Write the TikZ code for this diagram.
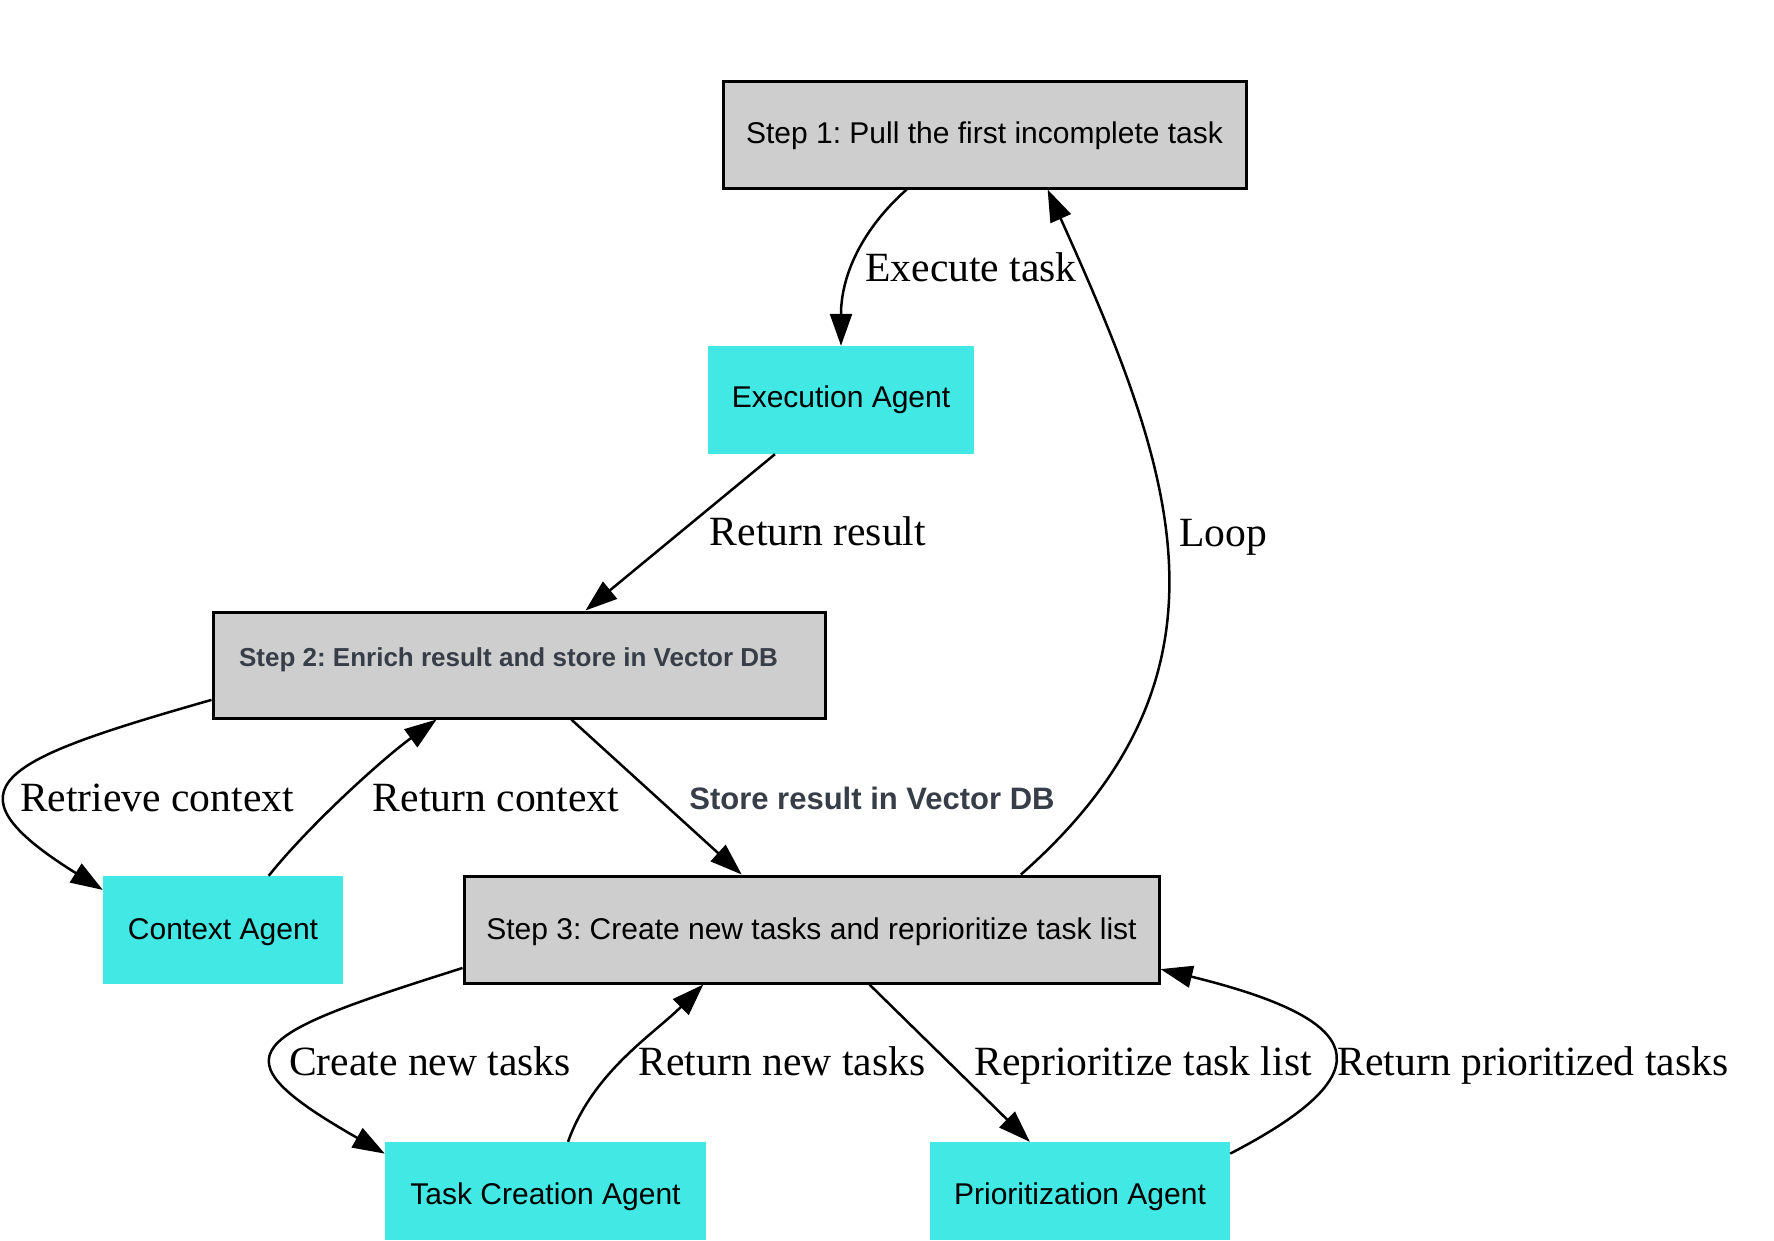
\documentclass[tikz,border=0pt]{standalone}
\usepackage{fontspec}
\setmainfont{Liberation Serif}
\newfontfamily\boxfont{Liberation Sans}
\usetikzlibrary{arrows.meta,calc}
\definecolor{boxgray}{RGB}{206,206,206}
\definecolor{agentcyan}{RGB}{66,232,228}
\definecolor{slate}{RGB}{55,62,72}
\frenchspacing
\begin{document}
\begin{tikzpicture}[x=1pt,y=-1pt,
  stepbox/.style={draw=black, line width=3pt, fill=boxgray, inner sep=0pt,
    text height=23.5pt, text depth=6.3pt,
    font=\boxfont\frenchspacing\fontsize{30}{36}\selectfont},
  agentbox/.style={fill=agentcyan, inner sep=0pt,
    text height=21.5pt, text depth=6.3pt,
    font=\boxfont\fontsize{30}{36}\selectfont},
  lbl/.style={anchor=base, inner sep=0pt, font=\fontsize{41.6}{48}\selectfont},
  storelbl/.style={anchor=base, inner sep=0pt, text=slate,
    font=\boxfont\bfseries\fontsize{31}{36}\selectfont},
  conn/.style={line width=2.5pt, -{Triangle[length=32pt,width=22pt]}}
]
\fill[white] (0,0) rectangle (1774,1240);
\useasboundingbox (0,0) rectangle (1774,1240);

% nodes
\node[stepbox, minimum width=523, minimum height=107] (s1) at (984.5,134.5) {Step 1: Pull the first incomplete task};
\node[agentbox, minimum width=266, minimum height=108] (exec) at (841,400) {Execution Agent};
\node[stepbox, minimum width=612, minimum height=106, text=slate,
  text height=18.8pt, text depth=15.5pt,
  font=\boxfont\frenchspacing\bfseries\fontsize{26}{32}\selectfont] (s2) at (519,665) {\kern-21pt Step 2: Enrich result and store in Vector DB};
\node[agentbox, minimum width=240, minimum height=108, text height=25.5pt] (ctx) at (223,930) {Context Agent};
\node[stepbox, minimum width=695, minimum height=107, text height=25.5pt] (s3) at (811.5,929.5) {Step 3: Create new tasks and reprioritize task list};
\node[agentbox, minimum width=321, minimum height=98, text height=33.5pt] (tca) at (545.5,1191) {Task Creation Agent};
\node[agentbox, minimum width=300, minimum height=98, text height=33.5pt] (prio) at (1080,1191) {Prioritization Agent};

% connectors
\draw[conn] ($(s1.south west)!0.352!(s1.south east)$) .. controls +(-45,40) and +(0,-70) .. (exec.north);
\draw[conn] ($(exec.south west)!0.252!(exec.south east)$) -- ($(s2.north west)!0.608!(s2.north east)$);
\draw[conn] ($(s2.north west)!0.82!(s2.south west)$) .. controls +(-210,60) and +(-165,-103) .. ($(ctx.north west)!0.13!(ctx.south west)$);
\draw[conn] ($(ctx.north west)!0.69!(ctx.north east)$) .. controls +(40,-50) and +(-55,40) .. ($(s2.south west)!0.366!(s2.south east)$);
\draw[conn] ($(s2.south west)!0.585!(s2.south east)$) -- ($(s3.north west)!0.40!(s3.north east)$);
\draw[conn] ($(s3.north west)!0.80!(s3.north east)$) .. controls +(230,-202) and +(125,278) .. ($(s1.south west)!0.62!(s1.south east)$);
\draw[conn] ($(s3.north west)!0.85!(s3.south west)$) .. controls +(-215,68) and +(-175,-100) .. ($(tca.north west)!0.12!(tca.south west)$);
\draw[conn] ($(tca.north west)!0.57!(tca.north east)$) .. controls +(25,-70) and +(-50,50) .. ($(s3.south west)!0.345!(s3.south east)$);
\draw[conn] ($(s3.south west)!0.583!(s3.south east)$) -- ($(prio.north west)!0.333!(prio.north east)$);
\draw[conn] ($(prio.north east)!0.12!(prio.south east)$) .. controls +(160,-83) and +(204,50) .. ($(s3.north east)!0.86!(s3.south east)$);

% labels
\node[lbl] (lexec) at (971,281) {Execute task};
\node[lbl] (lres) at (818,545) {Return result};
\node[lbl] (lloop) at (1223,546) {Loop};
\node[lbl] (lret) at (157,811) {Retrieve context};
\node[lbl] (lrc) at (496,811) {Return context};
\node[storelbl] (lstore) at (872,809) {Store result in Vector DB};
\node[lbl] (lcreate) at (430,1075) {Create new tasks};
\node[lbl] (lrnt) at (782,1075) {Return new tasks};
\node[lbl] (lrep) at (1143,1075) {Reprioritize task list};
\node[lbl] (lrpt) at (1533,1075) {Return prioritized tasks};
\end{tikzpicture}
\end{document}
